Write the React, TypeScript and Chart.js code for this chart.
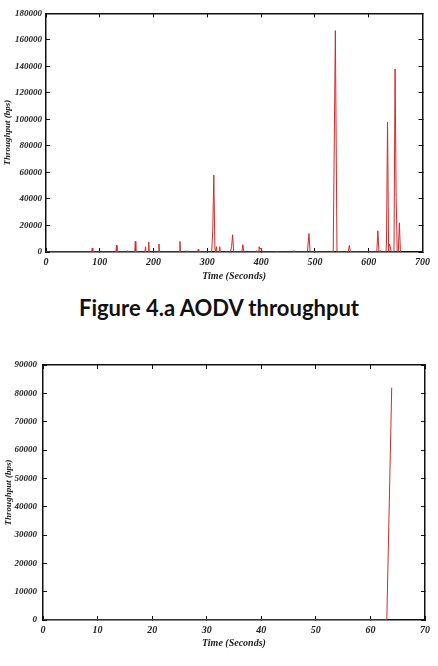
import React, { useEffect, useRef } from "react";
import { Chart, registerables } from "chart.js";

Chart.register(...registerables);

// ---- Figure 4.a : AODV throughput (top chart) ----
const timeA = [
  0, 85, 86, 87, 130, 131, 132, 151, 152, 153, 165, 166, 167, 184, 185, 186,
  190, 191, 192, 209, 210, 211, 248, 249, 250, 261, 262, 263, 282, 283, 284,
  308, 310, 312, 314, 315, 316, 317, 318, 322, 323, 324, 343, 345, 347, 349,
  364, 366, 368, 391, 392, 393, 395, 396, 398, 400, 402, 427, 428, 429, 460,
  461, 462, 486, 489, 491, 534, 538, 541, 562, 564, 566, 615, 617, 619, 621,
  622, 623, 632, 633, 635, 637, 638, 640, 642, 647, 649, 651, 653, 655, 657, 659,
];
const throughputA = [
  0, 0, 3000, 0, 0, 5000, 0, 0, 1000, 0, 0, 8000, 0, 0, 4000, 0,
  0, 7500, 0, 0, 6000, 0, 0, 8000, 0, 0, 1000, 0, 0, 2000, 0,
  0, 16000, 58000, 3000, 0, 0, 4000, 0, 0, 4000, 0, 0, 4000, 13000, 0,
  0, 5500, 0, 0, 1000, 0, 0, 4000, 2000, 3000, 0, 0, 500, 0, 0,
  1000, 0, 0, 14000, 0, 0, 167000, 0, 0, 5000, 0, 0, 16000, 0, 0,
  1000, 0, 0, 6000, 98000, 0, 6000, 4000, 0, 0, 138000, 41000, 0, 0, 22000, 0,
];
const xTicksA = { min: 0, max: 700, step: 100 };
const yTicksA = { min: 0, max: 180000, step: 20000 };

// ---- bottom chart ----
const timeB = [0, 63, 63.9];
const throughputB = [0, 0, 82000];
const xTicksB = { min: 0, max: 70, step: 10 };
const yTicksB = { min: 0, max: 90000, step: 10000 };

const xTitle = "Time (Seconds)";
const yTitle = "Throughput (bps)";
const caption = "Figure 4.a AODV throughput";

const LINE = "#d42a2a";
const INK = "#222";
const AXIS = "#111";
const FONT = { family: "'Liberation Serif', 'DejaVu Serif', serif", size: 9, weight: "bold" as const, style: "italic" as const };
const TITLE_FONT = { family: "'Liberation Serif', 'DejaVu Serif', serif", size: 10, weight: "bold" as const, style: "italic" as const };

type Geo = {
  padTop: number; padRight: number; yWidth: number; xHeight: number;
  yLabelPad: number; xLabelPad: number; yTitlePad: number;
};

function makeConfig(
  xs: number[], ys: number[],
  xr: { min: number; max: number; step: number },
  yr: { min: number; max: number; step: number },
  g: Geo
): any {
  const border = { display: true, color: AXIS, width: 1.5 };
  const grid = { drawOnChartArea: false, drawTicks: true, tickLength: -4, color: AXIS, lineWidth: 1 };
  return {
    type: "line",
    data: {
      datasets: [
        {
          data: xs.map((x, i) => ({ x, y: ys[i] })),
          borderColor: LINE,
          borderWidth: 1,
          pointRadius: 0,
          tension: 0,
          fill: false,
        },
      ],
    },
    options: {
      animation: false,
      responsive: false,
      devicePixelRatio: 1,
      layout: { padding: { top: g.padTop, right: g.padRight, left: 0, bottom: 0 } },
      plugins: { legend: { display: false }, tooltip: { enabled: false }, title: { display: false } },
      scales: {
        x: {
          type: "linear", position: "bottom", min: xr.min, max: xr.max, z: 1,
          border, grid,
          ticks: { stepSize: xr.step, padding: g.xLabelPad, color: INK, font: TITLE_FONT, maxRotation: 0, callback: (v: number) => String(v) },
          title: { display: true, text: xTitle, color: INK, font: TITLE_FONT, padding: { top: 0, bottom: 2 } },
          afterFit: (s: any) => { s.height = g.xHeight; },
        },
        x2: {
          type: "linear", position: "top", min: xr.min, max: xr.max, z: 1,
          border, grid,
          ticks: { stepSize: xr.step, display: false },
          afterFit: (s: any) => { s.height = 0; },
        },
        y: {
          type: "linear", position: "left", min: yr.min, max: yr.max, z: 1,
          border, grid,
          ticks: { stepSize: yr.step, padding: g.yLabelPad, color: INK, font: FONT, callback: (v: number) => String(v) },
          title: { display: true, text: yTitle, color: INK, font: FONT, padding: { top: g.yTitlePad, bottom: 0 } },
          afterFit: (s: any) => { s.width = g.yWidth; },
        },
        y2: {
          type: "linear", position: "right", min: yr.min, max: yr.max, z: 1,
          border, grid,
          ticks: { stepSize: yr.step, display: false },
          afterFit: (s: any) => { s.width = 0; },
        },
      },
    },
  };
}

export default function App() {
  const ref1 = useRef<HTMLCanvasElement>(null);
  const ref2 = useRef<HTMLCanvasElement>(null);

  useEffect(() => {
    const c1 = new Chart(
      ref1.current as HTMLCanvasElement,
      makeConfig(timeA, throughputA, xTicksA, yTicksA, {
        padTop: 11, padRight: 14, yWidth: 46, xHeight: 32, yLabelPad: 8, xLabelPad: 8, yTitlePad: 2,
      })
    );
    const c2 = new Chart(
      ref2.current as HTMLCanvasElement,
      makeConfig(timeB, throughputB, xTicksB, yTicksB, {
        padTop: 25, padRight: 11, yWidth: 43, xHeight: 31, yLabelPad: 10, xLabelPad: 8, yTitlePad: 3.5,
      })
    );
    return () => {
      c1.destroy();
      c2.destroy();
    };
  }, []);

  return (
    <div style={{ position: "absolute", left: 0, top: 0, width: 438, height: 666, background: "#fff", overflow: "hidden" }}>
      <canvas ref={ref1} width={438} height={284} style={{ position: "absolute", left: 0, top: 0, width: 438, height: 284 }} />
      <div
        style={{
          position: "absolute", left: 0, top: 296, width: 438, textAlign: "center",
          fontFamily: "Lato, 'Open Sans', sans-serif", fontWeight: "bold", fontSize: 22, lineHeight: "24px", color: "#111",
          whiteSpace: "nowrap",
        }}
      >
        {caption}
      </div>
      <canvas ref={ref2} width={438} height={311} style={{ position: "absolute", left: 0, top: 340, width: 438, height: 311 }} />
    </div>
  );
}
